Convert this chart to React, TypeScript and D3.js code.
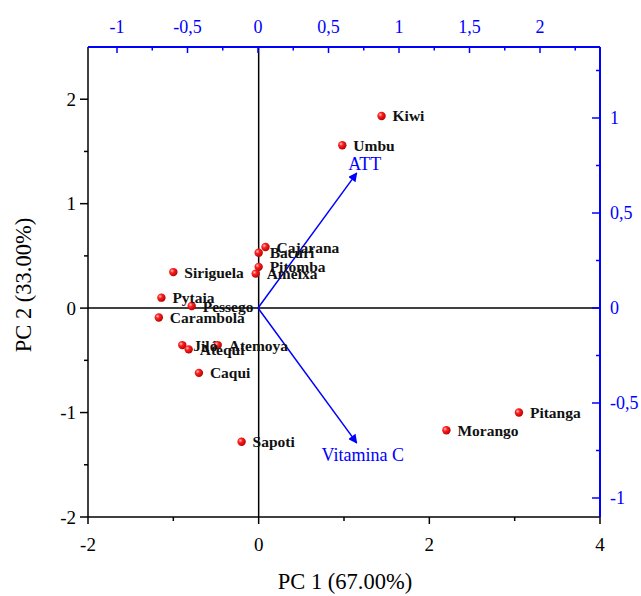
import React from "react";
import * as d3 from "d3";

const names = ["Kiwi", "Umbu", "Cajarana", "Bacuri", "Pitomba", "Ameixa", "Siriguela", "Pytaia", "Pessego", "Carambola", "Jiló", "Atequi", "Atemoya", "Caqui", "Sapoti", "Morango", "Pitanga"];
const pc1 = [1.44, 0.98, 0.08, 0.0, 0.0, -0.035, -1.0, -1.14, -0.785, -1.17, -0.895, -0.82, -0.48, -0.7, -0.2, 2.2, 3.05];
const pc2 = [1.84, 1.56, 0.585, 0.53, 0.395, 0.33, 0.345, 0.1, 0.02, -0.09, -0.354, -0.395, -0.354, -0.62, -1.28, -1.17, -1.0];

const loadNames = ["ATT", "Vitamina C"];
const load1 = [0.7, 0.7];
const load2 = [0.71, -0.71];

const bottomTicks = [-2, 0, 2, 4];
const bottomMinor = [-1, 1, 3];
const leftTicks = [-2, -1, 0, 1, 2];
const leftMinor = [-1.5, -0.5, 0.5, 1.5];
const topTicks = [-1, -0.5, 0, 0.5, 1, 1.5, 2];
const topMinor = [-0.75, -0.25, 0.25, 0.75, 1.25, 1.75, 2.25];
const rightTicks = [-1, -0.5, 0, 0.5, 1];
const rightMinor = [-0.75, -0.25, 0.25, 0.75, 1.25];

const L = 88, R = 600, T = 47, B = 517;
const x = d3.scaleLinear().domain([-2, 4]).range([L, R]);
const y = d3.scaleLinear().domain([-2, 2.5]).range([B, T]);
const x2 = d3.scaleLinear().domain([-(258 - L) / 141, (R - 258) / 141]).range([L, R]);
const y2 = d3.scaleLinear().domain([-(B - 308) / 190, (308 - T) / 190]).range([B, T]);

const fmt = (v: number) => String(v).replace(".", ",");
const font = "'Liberation Serif', 'Times New Roman', serif";
const blue = "#0000ff";

export default function App() {
  return (
    <svg width={641} height={596} style={{ position: "absolute", left: 0, top: 0 }} fontFamily={font}>
      <defs>
        <radialGradient id="ball" cx="0.35" cy="0.35" r="0.7">
          <stop offset="0" stopColor="#ffc0c0" />
          <stop offset="0.35" stopColor="#ff2020" />
          <stop offset="1" stopColor="#b00000" />
        </radialGradient>
        <marker id="arr" viewBox="0 0 10 10" refX="9" refY="5" markerWidth="9" markerHeight="9" markerUnits="userSpaceOnUse" orient="auto">
          <path d="M0,0 L10,5 L0,10 Z" fill={blue} />
        </marker>
      </defs>
      <line x1={L} x2={R} y1={y(0)} y2={y(0)} stroke="#000" strokeWidth={1.5} />
      <line x1={x(0)} x2={x(0)} y1={T} y2={B} stroke="#000" strokeWidth={1.5} />
      {loadNames.map((n, i) => (
        <line key={n} x1={x2(0)} y1={y2(0)} x2={x2(load1[i])} y2={y2(load2[i])} stroke={blue} strokeWidth={1.5} markerEnd="url(#arr)" />
      ))}
      <text x={x2(load1[0]) + 8} y={y2(load2[0]) - 3} fill={blue} fontSize={18} textAnchor="middle">{loadNames[0]}</text>
      <text x={x2(load1[1]) + 6} y={y2(load2[1]) + 18} fill={blue} fontSize={18} textAnchor="middle">{loadNames[1]}</text>
      {names.map((n, i) => (
        <circle key={n} cx={x(pc1[i])} cy={y(pc2[i])} r={4.2} fill="url(#ball)" />
      ))}
      {names.map((n, i) => (
        <text key={n} x={x(pc1[i]) + 11} y={y(pc2[i]) + 5.5} fontSize={15.5} fontWeight="bold" fill="#111">{n}</text>
      ))}
      <line x1={L} x2={R} y1={B} y2={B} stroke="#000" strokeWidth={1.5} />
      <line x1={L} x2={L} y1={T} y2={B} stroke="#000" strokeWidth={1.5} />
      <line x1={L} x2={R} y1={T} y2={T} stroke={blue} strokeWidth={2} />
      <line x1={R} x2={R} y1={T} y2={B} stroke={blue} strokeWidth={2} />
      {bottomTicks.map((t) => (
        <g key={t}>
          <line x1={x(t)} x2={x(t)} y1={B} y2={B + 7} stroke="#000" strokeWidth={1.5} />
          <text x={x(t)} y={B + 34} fontSize={19} textAnchor="middle">{fmt(t)}</text>
        </g>
      ))}
      {bottomMinor.map((t) => (
        <line key={t} x1={x(t)} x2={x(t)} y1={B} y2={B + 4} stroke="#000" strokeWidth={1.5} />
      ))}
      {leftTicks.map((t) => (
        <g key={t}>
          <line x1={L - 8} x2={L} y1={y(t)} y2={y(t)} stroke="#000" strokeWidth={1.5} />
          <text x={L - 12} y={y(t) + 6.5} fontSize={19} textAnchor="end">{fmt(t)}</text>
        </g>
      ))}
      {leftMinor.map((t) => (
        <line key={t} x1={L - 4} x2={L} y1={y(t)} y2={y(t)} stroke="#000" strokeWidth={1.5} />
      ))}
      {topTicks.map((t) => (
        <g key={t}>
          <line x1={x2(t)} x2={x2(t)} y1={T} y2={T + 6} stroke={blue} strokeWidth={1.5} />
          <text x={x2(t)} y={T - 14} fontSize={18} textAnchor="middle" fill={blue}>{fmt(t)}</text>
        </g>
      ))}
      {topMinor.map((t) => (
        <line key={t} x1={x2(t)} x2={x2(t)} y1={T} y2={T + 3.5} stroke={blue} strokeWidth={1.5} />
      ))}
      {rightTicks.map((t) => (
        <g key={t}>
          <line x1={R - 8} x2={R} y1={y2(t)} y2={y2(t)} stroke={blue} strokeWidth={1.5} />
          <text x={R + 10} y={y2(t) + 6} fontSize={18} fill={blue}>{fmt(t)}</text>
        </g>
      ))}
      {rightMinor.map((t) => (
        <line key={t} x1={R - 4} x2={R} y1={y2(t)} y2={y2(t)} stroke={blue} strokeWidth={1.5} />
      ))}
      <text x={345} y={589} fontSize={22.5} textAnchor="middle">PC 1 (67.00%)</text>
      <text transform={`translate(31, ${285}) rotate(-90)`} fontSize={22.5} textAnchor="middle">PC 2 (33.00%)</text>
    </svg>
  );
}
